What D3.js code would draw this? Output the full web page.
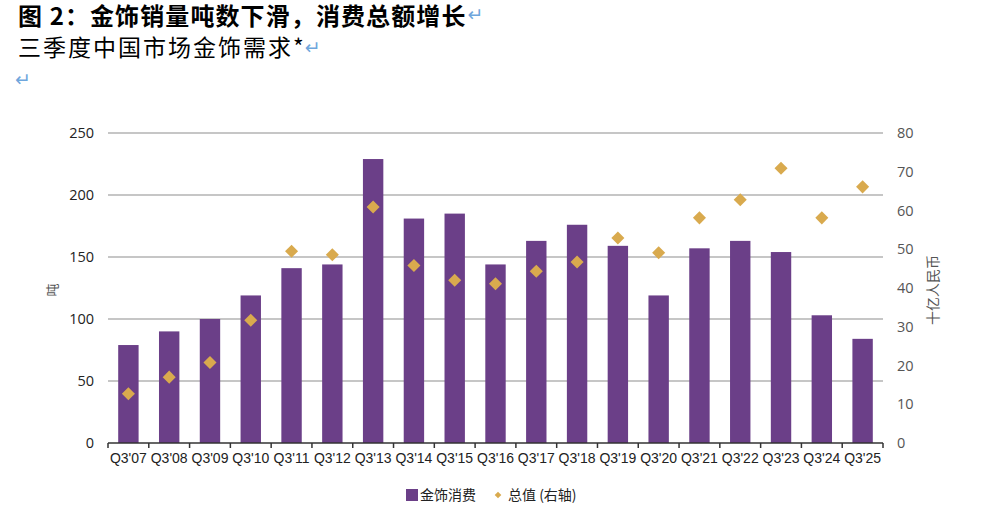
<!DOCTYPE html>
<html>
<head>
<meta charset="utf-8">
<script src="https://cdn.jsdelivr.net/npm/d3@7"></script>
<style>
  body { margin: 0; background: #fff; }
</style>
</head>
<body>
<div id="gold_chart"></div>
<script>
// quarters and values
var quarters = ["Q3'07","Q3'08","Q3'09","Q3'10","Q3'11","Q3'12","Q3'13","Q3'14","Q3'15","Q3'16",
                "Q3'17","Q3'18","Q3'19","Q3'20","Q3'21","Q3'22","Q3'23","Q3'24","Q3'25"];

// 金饰消费 (吨), left axis
var tonnes = [79, 90, 100, 119, 141, 144, 229, 181, 185, 144, 163, 176, 159, 119, 157, 163, 154, 103, 84];

// 总值 (十亿人民币), right axis
var valueRmb = [12.7, 17.0, 20.8, 31.7, 49.5, 48.6, 60.9, 45.8, 42.0, 41.1, 44.3, 46.7, 52.9, 49.1, 58.1, 62.8, 70.9, 58.1, 66.1];

var leftTicks = [0, 50, 100, 150, 200, 250];
var rightTicks = [0, 10, 20, 30, 40, 50, 60, 70, 80];

var W = 1004, H = 508;
var margin = {top: 133, right: 121, bottom: 65, left: 108},
  width = W - margin.left - margin.right,
  height = H - margin.top - margin.bottom;

var barColor = "#6b3f88", dotColor = "#d9aa4e", retColor = "#6fa6dc";

var svg = d3.select("#gold_chart")
.append("svg")
  .attr("width", W)
  .attr("height", H);

// paragraph mark after a text
function addReturn(xx, yy) {
  svg.append("text")
    .attr("x", xx).attr("y", yy)
    .style("font-family", "'DejaVu Sans'")
    .style("font-size", "19px")
    .style("fill", retColor)
    .text("\u21B5");
}

// title block
var t1 = svg.append("text")
  .attr("x", 18).attr("y", 25)
  .style("font-family", "'Noto Sans CJK SC'")
  .style("font-weight", "bold")
  .style("font-size", "24px")
  .style("letter-spacing", "1.1px")
  .text("图 2：金饰销量吨数下滑，消费总额增长");
addReturn(18 + t1.node().getComputedTextLength() + 1, 21);

var t2 = svg.append("text")
  .attr("x", 18).attr("y", 56)
  .style("font-family", "'Noto Sans CJK SC'")
  .style("font-size", "23px")
  .style("letter-spacing", "2px")
  .text("三季度中国市场金饰需求*");
addReturn(18 + t2.node().getComputedTextLength() - 1, 54);
addReturn(15, 86);

var g = svg.append("g")
  .attr("transform", "translate(" + margin.left + "," + margin.top + ")");

var x = d3.scaleBand()
  .range([0, width])
  .domain(quarters)
  .paddingInner(0.5)
  .paddingOuter(0.25);

var y = d3.scaleLinear()
  .range([height, 0])
  .domain([0, 250]);

var y2 = d3.scaleLinear()
  .range([height, 0])
  .domain([0, 80]);

// grid lines
g.append("g")
  .selectAll("line")
  .data(leftTicks.filter(function(d) { return d > 0; }))
  .enter()
  .append("line")
  .attr("x1", 0).attr("x2", width)
  .attr("y1", function(d) { return y(d); })
  .attr("y2", function(d) { return y(d); })
  .style("stroke", "#b3b3b3")
  .style("stroke-width", 1.5);

// left axis labels
var yAxis = g.append("g")
  .call(d3.axisLeft(y).tickValues(leftTicks).tickSize(0).tickPadding(14));
yAxis.select(".domain").remove();
yAxis.selectAll("text")
  .style("font-family", "'Open Sans'")
  .style("font-size", "14.5px")
  .style("fill", "#222");

// right axis labels
var y2Axis = g.append("g")
  .attr("transform", "translate(" + width + ",0)")
  .call(d3.axisRight(y2).tickValues(rightTicks).tickSize(0).tickPadding(14));
y2Axis.select(".domain").remove();
y2Axis.selectAll("text")
  .style("font-family", "'Open Sans'")
  .style("font-size", "14.5px")
  .style("fill", "#555");

// bars
g.selectAll(".bar")
  .data(tonnes)
  .enter()
  .append("rect")
  .attr("class", "bar")
  .attr("x", function(d, i) { return x(quarters[i]); })
  .attr("y", function(d) { return y(d); })
  .attr("width", x.bandwidth())
  .attr("height", function(d) { return height - y(d); })
  .style("fill", barColor);

// x axis
var band = x.step();
var xAxis = g.append("g")
  .attr("transform", "translate(0," + height + ")");
xAxis.append("line")
  .attr("x1", 0).attr("x2", width)
  .style("stroke", "#333")
  .style("stroke-width", 1.5);
xAxis.selectAll(".tick")
  .data(d3.range(quarters.length + 1))
  .enter()
  .append("line")
  .attr("x1", function(i) { return i * band; })
  .attr("x2", function(i) { return i * band; })
  .attr("y1", 0).attr("y2", 5)
  .style("stroke", "#333")
  .style("stroke-width", 1.5);
xAxis.selectAll(".lbl")
  .data(quarters)
  .enter()
  .append("text")
  .attr("x", function(d) { return x(d) + x.bandwidth() / 2; })
  .attr("y", 20)
  .attr("text-anchor", "middle")
  .style("font-family", "'Liberation Sans'")
  .style("font-size", "14px")
  .style("fill", "#222")
  .text(function(d) { return d; });

// diamonds
g.selectAll(".dot")
  .data(valueRmb)
  .enter()
  .append("path")
  .attr("d", d3.symbol(d3.symbolSquare, 85))
  .attr("transform", function(d, i) {
    return "translate(" + (x(quarters[i]) + x.bandwidth() / 2) + "," + y2(d) + ") rotate(45)";
  })
  .style("fill", dotColor);

// axis titles
svg.append("text")
  .attr("transform", "translate(57,290) rotate(-90)")
  .attr("text-anchor", "middle")
  .style("font-family", "'Noto Sans CJK SC'")
  .style("font-size", "13px")
  .style("fill", "#555")
  .text("吨");
svg.append("text")
  .attr("transform", "translate(938,290) rotate(-90)")
  .attr("text-anchor", "middle")
  .style("font-family", "'Noto Sans CJK SC'")
  .style("font-size", "14px")
  .style("fill", "#555")
  .text("十亿人民币");

// legend
var legend = svg.append("g").attr("transform", "translate(406,495)");
legend.append("rect")
  .attr("x", 0).attr("y", -6)
  .attr("width", 12).attr("height", 12)
  .style("fill", barColor);
legend.append("text")
  .attr("x", 14).attr("y", 5)
  .style("font-family", "'Noto Sans CJK SC'")
  .style("font-size", "14px")
  .style("fill", "#222")
  .text("金饰消费");
legend.append("path")
  .attr("d", d3.symbol(d3.symbolSquare, 22))
  .attr("transform", "translate(92,0) rotate(45)")
  .style("fill", dotColor);
legend.append("text")
  .attr("x", 102).attr("y", 5)
  .style("font-family", "'Noto Sans CJK SC'")
  .style("font-size", "14px")
  .style("fill", "#222")
  .text("总值 (右轴)");
</script>
</body>
</html>
